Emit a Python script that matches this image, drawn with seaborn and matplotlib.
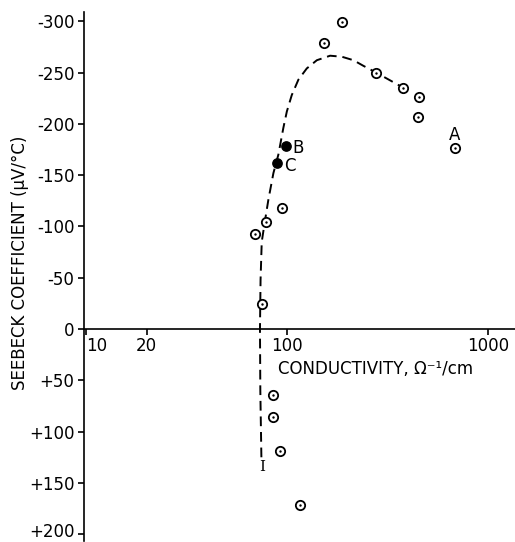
import matplotlib
matplotlib.use("Agg")
import matplotlib.pyplot as plt
import matplotlib.transforms as mtransforms
import seaborn as sns
import pandas as pd

# ---- data ----
open_x = [187, 153, 277, 377, 452, 449, 685, 94.4, 78.6, 69, 74.8, 85.5, 84.9, 92.3, 116]
open_y = [-299, -279, -250, -235, -226, -207, -176, -118, -104.6, -93, -24, 64, 86, 119, 171.5]
filled_x = [98.5, 89]
filled_y = [-178, -162]
curve_x = [74.5, 73.6, 73.3, 73.8, 74.8, 77.7, 80.7, 85.5, 90.5, 92.3, 95.8, 99.7,
           105.5, 113.8, 125.3, 140.6, 163.7, 187.2, 213.8, 239.8, 277, 372]
curve_y = [125, 60, 0, -48, -85, -106, -126, -152, -170, -179, -196, -212,
           -228, -243, -254, -262, -266.4, -265.4, -262, -256.5, -250, -236]
point_labels = ["A", "B", "C"]
label_x = [678, 114, 103]
label_y = [-189, -176, -159]
end_label = "I"
end_x, end_y = 74.8, 134.5
x_ticks = [10, 20, 100, 1000]
x_ticklabels = ["10", "20", "100", "1000"]
y_ticks = [-300, -250, -200, -150, -100, -50, 0, 50, 100, 150, 200]
y_ticklabels = ["-300", "-250", "-200", "-150", "-100", "-50", "0", "+50", "+100", "+150", "+200"]
x_label = "CONDUCTIVITY, Ω⁻¹/cm"
y_label = "SEEBECK COEFFICIENT (μV/°C)"

sns.set_style("white")
plt.rcParams["font.family"] = ["DejaVu Sans"]

fig = plt.figure(figsize=(5.15, 5.42), dpi=100)
ax = fig.add_axes([84 / 515, 1 / 542, 431 / 515, 529 / 542])

df_open = pd.DataFrame({"x": open_x, "y": open_y})
df_fill = pd.DataFrame({"x": filled_x, "y": filled_y})
df_curve = pd.DataFrame({"x": curve_x, "y": curve_y})

sns.lineplot(data=df_curve, x="x", y="y", sort=False, estimator=None, ax=ax,
             color="black", lw=1.4, linestyle=(0, (5, 3)))
sns.scatterplot(data=df_open, x="x", y="y", ax=ax, marker="o", s=45,
                facecolor="white", edgecolor="black", linewidth=1.3, zorder=3)
sns.scatterplot(data=df_open, x="x", y="y", ax=ax, marker="o", s=3,
                color="black", edgecolor="black", linewidth=0, zorder=4)
sns.scatterplot(data=df_fill, x="x", y="y", ax=ax, marker="o", s=45,
                color="black", edgecolor="black", linewidth=1.0, zorder=3)

ax.set_xscale("log")
ax.set_xlim(9.77, 1360)
ax.set_ylim(206.6, -309)

for lab, lx, ly in zip(point_labels, label_x, label_y):
    ax.text(lx, ly, lab, ha="center", va="center", fontsize=12, color="black")
ax.text(end_x, end_y, end_label, ha="center", va="center", fontsize=11,
        family="DejaVu Serif", color="black")

ax.spines["top"].set_visible(False)
ax.spines["right"].set_visible(False)
ax.spines["bottom"].set_position(("data", 0))
for sp in ("left", "bottom"):
    ax.spines[sp].set_color("black")
    ax.spines[sp].set_linewidth(1.2)

ax.set_xticks(x_ticks)
ax.set_xticklabels(x_ticklabels)
ax.xaxis.set_minor_locator(matplotlib.ticker.NullLocator())
ax.set_yticks(y_ticks)
ax.set_yticklabels(y_ticklabels)
ax.tick_params(axis="both", which="major", direction="out", length=4, width=1.2,
               color="black", labelsize=12, labelcolor="black", pad=3,
               bottom=True, left=True)
ax.tick_params(axis="x", pad=2)
ax.get_xticklabels()[0].set_horizontalalignment("left")
last = ax.yaxis.get_major_ticks()[-1].label1
last.set_transform(last.get_transform() +
                   mtransforms.ScaledTranslation(0, 3 / 72, fig.dpi_scale_trans))

ax.set_xlabel(x_label, fontsize=12, color="black")
ax.set_ylabel(y_label, fontsize=12, color="black")
ax.xaxis.set_label_coords(0.677, 0.342)
ax.yaxis.set_label_coords(-0.128, 0.525)

fig.savefig("out.png", dpi=100)
